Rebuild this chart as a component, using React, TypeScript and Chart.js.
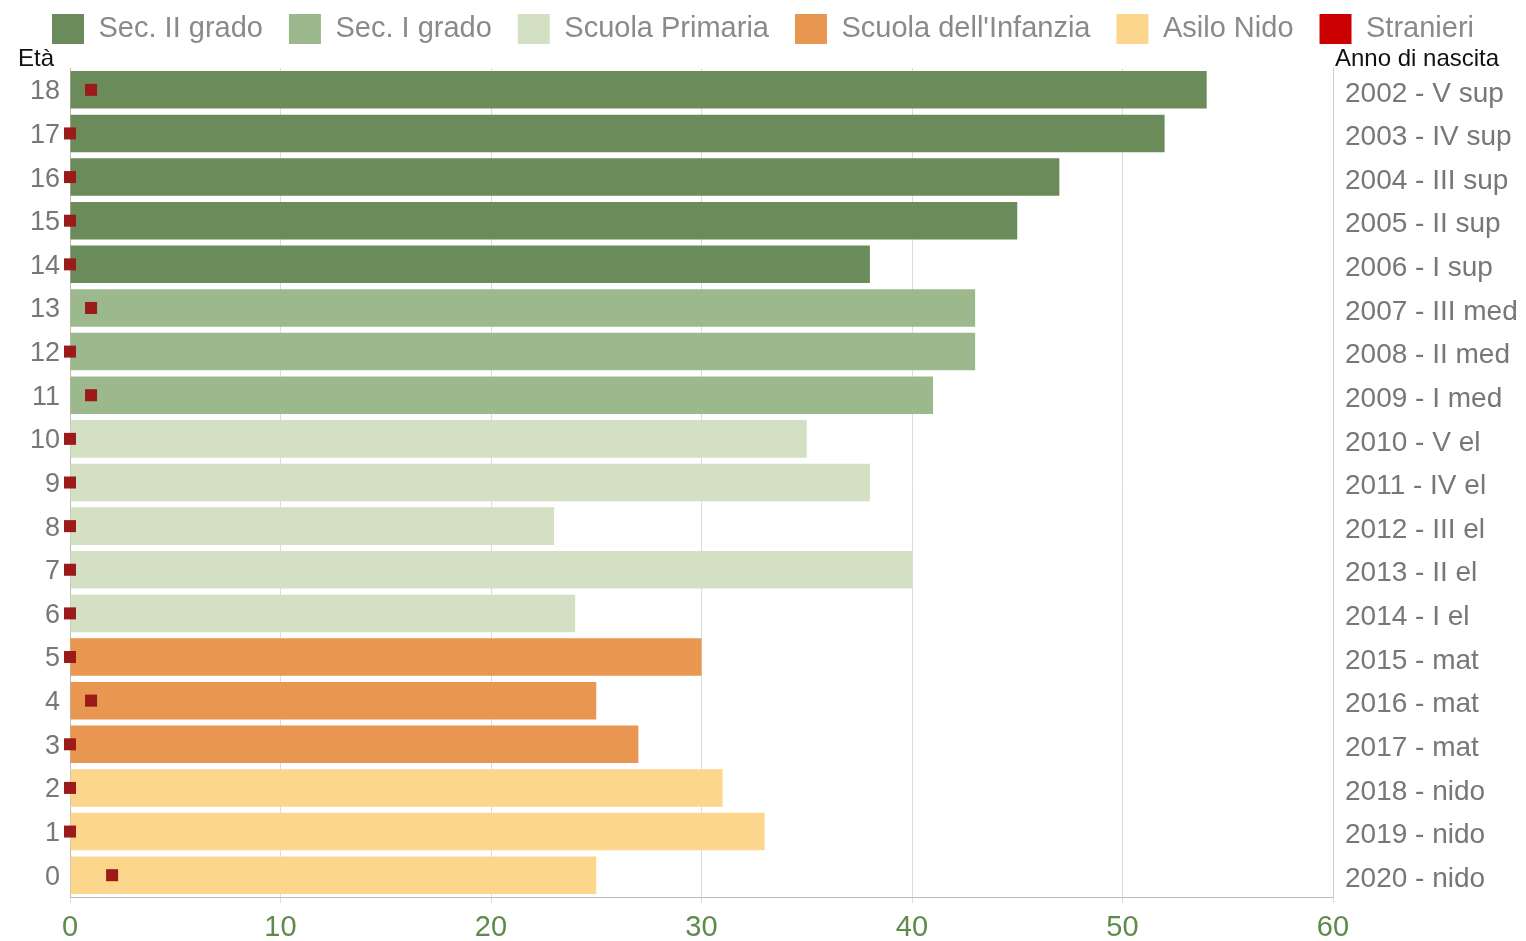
import React, { useEffect, useRef } from "react";
import { Chart, registerables } from "chart.js";

Chart.register(...registerables);

const ages = ["18", "17", "16", "15", "14", "13", "12", "11", "10", "9", "8", "7", "6", "5", "4", "3", "2", "1", "0"];
const birthLabels = [
  "2002 - V sup", "2003 - IV sup", "2004 - III sup", "2005 - II sup", "2006 - I sup",
  "2007 - III med", "2008 - II med", "2009 - I med",
  "2010 - V el", "2011 - IV el", "2012 - III el", "2013 - II el", "2014 - I el",
  "2015 - mat", "2016 - mat", "2017 - mat",
  "2018 - nido", "2019 - nido", "2020 - nido",
];
const secII = [54, 52, 47, 45, 38, null, null, null, null, null, null, null, null, null, null, null, null, null, null];
const secI = [null, null, null, null, null, 43, 43, 41, null, null, null, null, null, null, null, null, null, null, null];
const primaria = [null, null, null, null, null, null, null, null, 35, 38, 23, 40, 24, null, null, null, null, null, null];
const infanzia = [null, null, null, null, null, null, null, null, null, null, null, null, null, 30, 25, 27, null, null, null];
const nido = [null, null, null, null, null, null, null, null, null, null, null, null, null, null, null, null, 31, 33, 25];
const stranieri = [1, 0, 0, 0, 0, 1, 0, 1, 0, 0, 0, 0, 0, 0, 1, 0, 0, 0, 2];
const xTicks = [0, 10, 20, 30, 40, 50, 60];

const FONT = "'Liberation Sans', Arial, sans-serif";

export default function App() {
  const ref = useRef<HTMLCanvasElement | null>(null);

  useEffect(() => {
    document.body.style.margin = "0";
    const canvas = ref.current;
    if (!canvas) return;

    const titlePlugin = {
      id: "axisTitles",
      beforeInit(chart: any) {
        const legend = chart.legend;
        if (legend) {
          const origFit = legend.fit;
          legend.fit = function () {
            origFit.call(this);
            this.height = 68;
          };
          const origDraw = legend.draw;
          legend.draw = function (...args: any[]) {
            const ctx = this.ctx;
            ctx.save();
            ctx.translate(0, -12);
            origDraw.apply(this, args);
            ctx.restore();
          };
        }
      },
      afterDraw(chart: any) {
        const ctx = chart.ctx;
        ctx.save();
        ctx.fillStyle = "#111";
        ctx.textBaseline = "alphabetic";
        ctx.textAlign = "left";
        ctx.font = `24px ${FONT}`;
        ctx.fillText("Età", 18, 66);
        ctx.font = `24px ${FONT}`;
        ctx.fillText("Anno di nascita", 1335, 66);
        ctx.restore();
      },
    };

    const barCommon = {
      type: "bar" as const,
      barPercentage: 0.86,
      categoryPercentage: 1,
      xAxisID: "x",
      yAxisID: "y",
      borderWidth: 0,
      order: 2,
    };

    const chart = new Chart(canvas, {
      type: "bar",
      data: {
        labels: ages,
        datasets: [
          { ...barCommon, label: "Sec. II grado", data: secII, backgroundColor: "#6b8c5a" } as any,
          { ...barCommon, label: "Sec. I grado", data: secI, backgroundColor: "#9bb98c" } as any,
          { ...barCommon, label: "Scuola Primaria", data: primaria, backgroundColor: "#d4e0c3" } as any,
          { ...barCommon, label: "Scuola dell'Infanzia", data: infanzia, backgroundColor: "#e89650" } as any,
          { ...barCommon, label: "Asilo Nido", data: nido, backgroundColor: "#fcd68c" } as any,
          {
            type: "line",
            label: "Stranieri",
            data: stranieri,
            showLine: false,
            pointStyle: "rect",
            pointRadius: 8.5,
            pointHoverRadius: 8.5,
            backgroundColor: "#9b1a1a",
            borderColor: "#9b1a1a",
            borderWidth: 0,
            clip: false,
            xAxisID: "x",
            yAxisID: "y",
            order: 1,
          } as any,
        ],
      },
      options: {
        indexAxis: "y",
        responsive: false,
        animation: false,
        maintainAspectRatio: false,
        layout: { padding: 0 },
        plugins: {
          tooltip: { enabled: false },
          legend: {
            position: "top",
            align: "center",
            labels: {
              boxWidth: 32,
              boxHeight: 30,
              padding: 26,
              color: "#8a8a8a",
              font: { family: FONT, size: 29 },
              sort: (a: any, b: any) => a.datasetIndex - b.datasetIndex,
              generateLabels(chart: any) {
                const items = Chart.defaults.plugins.legend.labels.generateLabels(chart);
                items.forEach((it: any) => {
                  it.lineWidth = 0;
                  it.strokeStyle = "transparent";
                  if (it.text === "Stranieri") it.fillStyle = "#cc0000";
                });
                return items;
              },
            },
          },
        },
        scales: {
          x: {
            type: "linear",
            min: 0,
            max: 60,
            position: "bottom",
            afterFit(scale: any) {
              scale.height = 44;
            },
            afterBuildTicks(scale: any) {
              scale.ticks = xTicks.map((v) => ({ value: v }));
            },
            ticks: {
              color: "#5e8a4c",
              font: { family: FONT, size: 29 },
              padding: 8,
            },
            grid: {
              color: "#dcdcdc",
              lineWidth: 1,
              drawTicks: true,
              tickLength: 6,
            },
            border: { display: true, color: "#bbbbbb" },
          },
          y: {
            type: "category",
            position: "left",
            stacked: true,
            offset: true,
            afterFit(scale: any) {
              scale.width = 70;
            },
            ticks: {
              color: "#777777",
              font: { family: FONT, size: 27 },
              padding: 6,
              labelOffset: 2,
            },
            grid: { display: false, drawTicks: true, tickLength: 4 },
            border: { display: true, color: "#bbbbbb" },
          },
          y2: {
            type: "category",
            position: "right",
            labels: birthLabels,
            offset: true,
            afterFit(scale: any) {
              scale.width = 193;
            },
            ticks: {
              color: "#777777",
              font: { family: FONT, size: 28 },
              padding: 12,
              labelOffset: 4,
            },
            grid: { display: false, drawTicks: false },
            border: { display: true, color: "#cccccc" },
          },
        },
      } as any,
      plugins: [titlePlugin],
    });

    return () => chart.destroy();
  }, []);

  return (
    <div style={{ position: "absolute", left: 0, top: 0, width: 1526, height: 941 }}>
      <canvas ref={ref} width={1526} height={941} style={{ width: 1526, height: 941, display: "block" }} />
    </div>
  );
}
